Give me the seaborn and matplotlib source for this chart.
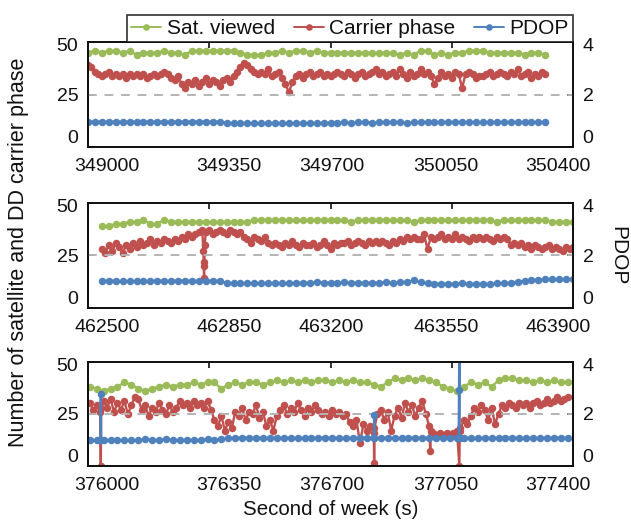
import numpy as np
import pandas as pd
import matplotlib
matplotlib.use("Agg")
import matplotlib.pyplot as plt
from matplotlib.lines import Line2D
from matplotlib.transforms import ScaledTranslation
import seaborn as sns

# ---------------- data ----------------
series_names = ["Sat. viewed", "Carrier phase", "PDOP"]
colors = ["#9BBB59", "#C0504D", "#4F81BD"]

xlims = [(349000, 350400), (462500, 463900), (376000, 377400)]
xticks = [[349000, 349350, 349700, 350050, 350400],
          [462500, 462850, 463200, 463550, 463900],
          [376000, 376350, 376700, 377050, 377400]]
left_ticks = [0, 25, 50]
right_ticks = [0, 2, 4]

# panel 1 (sat & pdop every 20 s, carrier phase every 10 s)
p1_start = 349000
p1_sat = [45, 46, 45, 46, 46, 45, 46, 44, 45, 45, 45, 46, 45, 45, 44,
          46, 46, 46, 46, 46, 46, 46, 45, 44, 44, 44, 45, 45, 46, 45,
          46, 46, 45, 46, 45, 45, 45, 45, 45, 45, 45, 45, 45, 45, 45,
          44, 45, 44, 46, 46, 44, 45, 44, 45, 45, 46, 46, 46, 45, 45,
          45, 45, 45, 44, 45, 45, 44]
p1_cp = [39, 38, 36, 35, 34, 35, 36, 34, 35, 34,
         35, 33, 35, 34, 35, 34, 35, 33, 34, 35,
         34, 35, 36, 35, 33, 32, 34, 30, 28, 31,
         30, 32, 29, 31, 33, 30, 32, 31, 29, 32,
         33, 31, 34, 36, 38, 40, 39, 37, 36, 35,
         36, 35, 37, 34, 35, 36, 33, 30, 26, 31,
         34, 35, 33, 35, 36, 34, 35, 36, 34, 35,
         34, 35, 36, 35, 34, 36, 35, 33, 35, 36,
         34, 35, 36, 37, 35, 36, 34, 35, 36, 34,
         37, 35, 33, 36, 34, 35, 37, 35, 36, 34,
         30, 33, 36, 34, 35, 33, 36, 35, 28, 35,
         36, 35, 33, 34, 34, 35, 36, 34, 35, 36,
         35, 34, 36, 35, 37, 34, 35, 36, 33, 35,
         34, 36, 35]
p1_pdop = [0.96, 0.96, 0.96, 0.96, 0.96, 0.96, 0.96, 0.96, 0.96, 0.96,
           0.96, 0.96, 0.96, 0.96, 0.96, 0.96, 0.96, 0.96, 0.96, 0.96,
           0.91, 0.90, 0.90, 0.90, 0.90, 0.90, 0.89, 0.89, 0.90, 0.89,
           0.90, 0.90, 0.91, 0.91, 0.90,
           0.92, 0.92, 0.93, 0.92, 0.93, 0.93, 0.92, 0.93,
           0.93, 0.93, 0.93, 0.92, 0.93, 0.93, 0.93, 0.93,
           0.93, 0.93, 0.93, 0.93, 0.93, 0.93, 0.93, 0.93,
           0.93, 0.93, 0.93, 0.93, 0.93, 0.93, 0.93, 0.93]

# panel 2
p2_start = 462540
p2_sat = [39, 39, 40, 40, 41, 41, 42, 40, 40, 42, 41,
          41, 41, 41, 41, 41, 41, 41, 41, 41, 41, 41,
          42, 42, 42, 42, 42, 42, 42, 42, 42, 42, 42, 42, 42,
          42, 41,
          42, 42, 42, 42, 42, 42, 42, 42,
          41,
          42, 42, 42, 42, 42, 42,
          42, 42, 42, 42, 42, 41, 42, 42, 42, 42, 42, 42, 42,
          41, 41, 41, 41]
p2_cp = [28, 26, 30, 27, 31, 29, 26, 30, 28, 31,
         29, 32, 30, 31, 33, 30, 32, 31, 33, 32,
         31, 33, 32, 34, 33, 35, 34, 35, 36, 37,
         36, 37, 35, 36, 37, 36, 35, 37, 36, 35,
         36, 34, 33, 31, 34, 33, 32, 34, 31, 30,
         31, 30, 29, 31, 30, 32, 30, 29, 31, 30,
         30, 31, 29, 30, 32, 30, 28, 31, 30, 31,
         31, 32, 30, 31, 32, 31, 30, 32, 31, 32,
         31, 32, 31, 30, 32, 31, 33, 32, 34, 33,
         34, 33, 33, 35, 28, 34, 33, 34, 35, 33,
         34, 33, 35, 33, 34, 33, 32, 34, 33, 34,
         33, 34, 33, 32, 34, 33, 34, 33, 30, 31,
         30, 31, 29, 30, 28, 30, 29, 28, 29, 30,
         28, 29, 28, 27, 29, 28, 29]
p2_pdop = [1.02, 1.03, 1.02, 1.01, 1.00, 1.00, 1.01, 1.02, 1.03, 1.02,
           1.02, 1.03, 1.03, 1.02, 1.02, 1.02, 1.03, 1.02,
           0.94, 0.93, 0.92, 0.92, 0.92, 0.92, 0.92, 0.93, 0.92, 0.92,
           0.95, 0.95, 0.95, 0.96, 0.95, 0.95, 0.95, 0.96, 0.95, 0.95,
           0.95, 0.95, 0.95, 0.96, 0.95, 0.96, 0.97,
           1.04, 0.96, 0.92, 0.91, 0.91, 0.91, 0.91, 0.92, 0.91, 0.91,
           0.91, 0.91, 0.92, 0.93, 0.95,
           0.99, 1.02, 1.05, 1.07, 1.08, 1.08, 1.08, 1.08, 1.08]
p2_cp_spike_t = [462833, 462834, 462835, 462836, 462837]
p2_cp_spike_v = [27, 20, 14, 22, 30]

# panel 3
p3_start = 376005
p3_sat = [38, 37, 36, 37, 38, 40, 39, 37, 36, 37,
          38, 39, 38, 39, 39, 40, 39, 40, 40, 37,
          39, 40, 39, 40, 40, 39, 40, 41, 40, 41,
          40, 41, 40, 41, 41, 40, 41, 40, 41, 40,
          40, 39, 38, 40, 42, 41, 42, 41, 42, 41,
          40, 38, 37, 36, 38, 40, 39, 40, 38, 41,
          42, 42, 41, 41, 40, 41, 40, 41, 40, 40]
p3_cp = [30, 27, 29, 26, 31, 28, 32, 26, 30, 27,
         31, 25, 29, 33, 32, 27, 29, 24, 28, 26,
         30, 27, 25, 29, 26, 28, 31, 29, 30, 28,
         31, 29, 30, 28, 31, 27, 22, 19, 24, 17,
         21, 18, 26, 24, 28, 22, 26, 25, 29, 23,
         26, 19, 22, 17, 24, 27, 29, 25, 28, 26,
         30, 27, 24, 28, 26, 29, 27, 25, 26, 24,
         27, 25, 26, 24, 25, 21, 19, 22, 11, 20,
         17, 19, 16, 25, 27, 22, 26, 17, 24, 28,
         23, 30, 26, 29, 24, 28, 31, 25, 19, 16,
         15, 16, 15, 16, 15, 16, 17, 18, 22, 20,
         24, 28, 26, 29, 27, 22, 28, 20, 25, 29,
         28, 30, 29, 28, 30, 29, 30, 28, 30, 31,
         29, 30, 32, 30, 31, 33, 31, 32, 33]
p3_pdop = [0.98, 0.98, 0.98, 0.98, 0.99, 0.98, 0.99, 0.98, 1.02, 0.99,
           0.98, 1.02, 0.99, 0.98, 1.01, 0.99, 0.99, 1.02, 1.00,
           1.03, 1.07,
           1.08, 1.09, 1.08, 1.08, 1.07, 1.08, 1.09, 1.08, 1.08, 1.08,
           1.07, 1.08, 1.08, 1.09, 1.08, 1.08, 1.07, 1.08, 1.08, 1.09,
           1.08, 1.08, 1.08, 1.07, 1.08, 1.09, 1.08, 1.08, 1.08, 1.07,
           1.08, 1.08, 1.09, 1.08, 1.08, 1.07, 1.08, 1.08, 1.08, 1.09,
           1.08, 1.08, 1.07, 1.08, 1.08, 1.08, 1.09, 1.08, 1.08]
p3_cp_spike_t = [376037, 376038, 376826, 376827, 376988, 376989, 377072, 377073]
p3_cp_spike_v = [0, 28, 1.5, 18, 7, 17, 0, 17]
p3_pdop_spike_t = [376036, 376037, 376038, 376826, 376827,
                   377070, 377071, 377072, 377073]
p3_pdop_spike_v = [0.98, 2.74, 0.98, 1.97, 1.08,
                   1.08, 2.9, 5.0, 1.08]


def build(start, step, values, spike_t=(), spike_v=()):
    t = start + step * np.arange(len(values))
    df = pd.DataFrame({"t": np.concatenate([t, np.asarray(spike_t, float)]),
                       "v": np.concatenate([np.asarray(values, float),
                                            np.asarray(spike_v, float)])})
    return df.sort_values("t").reset_index(drop=True)


panels = [
    (build(p1_start, 20, p1_sat), build(p1_start, 10, p1_cp),
     build(p1_start, 20, p1_pdop)),
    (build(p2_start, 20, p2_sat),
     build(p2_start, 10, p2_cp, p2_cp_spike_t, p2_cp_spike_v),
     build(p2_start, 20, p2_pdop)),
    (build(p3_start, 20, p3_sat),
     build(p3_start, 10, p3_cp, p3_cp_spike_t, p3_cp_spike_v),
     build(p3_start, 20, p3_pdop, p3_pdop_spike_t, p3_pdop_spike_v)),
]

# ---------------- style ----------------
sns.set_theme(style="white")
plt.rcParams["font.family"] = ["Liberation Sans", "DejaVu Sans"]
plt.rcParams["text.color"] = "#111111"
plt.rcParams["axes.labelcolor"] = "#111111"
plt.rcParams["xtick.color"] = "#111111"
plt.rcParams["ytick.color"] = "#111111"

fig = plt.figure(figsize=(6.31, 5.22), dpi=100)
left, width, height = 88 / 631, 485 / 631, 0.200
bottoms = [1 - 146.7 / 522, 1 - 307.5 / 522, 1 - 466 / 522]

line_kw = dict(marker="o", markersize=5.4, markeredgewidth=0, linewidth=1.7,
               estimator=None, legend=False)

# label offsets (pixels) reproducing the reference tick-label placement
x_label_dx = [19, 20, 1, -6, -15]
y_label_dy = [10, 0, -2.5]


def shift(label, dx, dy):
    label.set_transform(label.get_transform() +
                        ScaledTranslation(dx / 100, dy / 100,
                                          fig.dpi_scale_trans))


for i, (sat, cp, pdop) in enumerate(panels):
    ax = fig.add_axes([left, bottoms[i], width, height])
    ax2 = ax.twinx()
    sns.lineplot(data=sat, x="t", y="v", ax=ax, color=colors[0], **line_kw)
    sns.lineplot(data=cp, x="t", y="v", ax=ax, color=colors[1], **line_kw)
    ax2.axhline(2, color="#b4b4b4", linewidth=1.4, dashes=(4.5, 4.0), zorder=1)
    sns.lineplot(data=pdop, x="t", y="v", ax=ax2, color=colors[2], **line_kw)

    ax.set_xlim(*xlims[i])
    ax.set_ylim(0, 50)
    ax2.set_ylim(0, 4)
    ax.set_xticks(xticks[i])
    ax.set_xticklabels([str(v) for v in xticks[i]])
    ax.set_yticks(left_ticks)
    ax.set_yticklabels([str(v) for v in left_ticks])
    ax2.set_yticks(right_ticks)
    ax2.set_yticklabels([str(v) for v in right_ticks])
    ax.set_xlabel("")
    ax.set_ylabel("")
    ax2.set_ylabel("")
    ax.tick_params(axis="x", direction="in", length=4, width=1.2, top=True,
                   labelsize=14, pad=8)
    ax.tick_params(axis="y", direction="in", length=4, width=1.2,
                   labelsize=14, pad=7)
    ax2.tick_params(axis="y", direction="in", length=4, width=1.2,
                    labelsize=14, pad=7)
    for a in (ax, ax2):
        for s in a.spines.values():
            s.set_color("#111111")
            s.set_linewidth(1.3)
    for lab, dx in zip(ax.get_xticklabels(), x_label_dx):
        shift(lab, dx, 0)
    for lab, dy in zip(ax.get_yticklabels(), y_label_dy):
        shift(lab, 0, dy)
    for lab, dy in zip(ax2.get_yticklabels(), y_label_dy):
        shift(lab, 0, dy)

fig.text(0.029, 0.517, "Number of satellite and DD carrier phase",
         rotation=90, ha="center", va="center", fontsize=15.5)
fig.text(0.979, 0.51, "PDOP", rotation=270, ha="center", va="center",
         fontsize=15)
fig.text(0.524, 0.023, "Second of week (s)", ha="center", va="center",
         fontsize=14.8)

handles = [Line2D([0], [0], color=c, marker="o", markersize=4.8,
                  markeredgewidth=0, linewidth=1.4) for c in colors]
leg = fig.legend(handles, series_names, loc="lower left",
                 bbox_to_anchor=(127 / 631, 1 - 42.3 / 522,
                                 (573 - 127) / 631, 30 / 522),
                 mode="expand", ncol=3, frameon=True, fancybox=False,
                 borderaxespad=0, handlelength=1.45, handletextpad=0.25,
                 columnspacing=0.85, fontsize=15, borderpad=0.2)
leg.get_frame().set_edgecolor("#111111")
leg.get_frame().set_linewidth(1.3)

fig.savefig("out.png", dpi=100)
